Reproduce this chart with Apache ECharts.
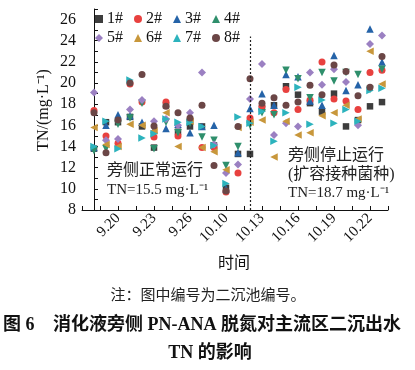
<!DOCTYPE html>
<html>
<head>
<meta charset="utf-8">
<script src="https://cdn.jsdelivr.net/npm/echarts@6/dist/echarts.min.js"></script>
<style>
html,body{margin:0;padding:0;background:#fff;}
#chart{width:415px;height:370px;}
</style>
</head>
<body>
<div id="chart"></div>
<script>
// Sampling dates (category positions along the x axis)
const dates = ['9.18','9.19','9.20','9.21','9.22','9.23','9.24','9.25','9.26','9.27','9.28',
  '10.10','10.11','10.12','10.13','10.14','10.15','10.16','10.17','10.18','10.19','10.20','10.21','10.22','10.23'];
const xTickLabels = ['9.20','9.23','9.26','10.10','10.13','10.16','10.19','10.22'];
const yTickLabels = [8,10,12,14,16,18,20,22,24,26];
const switchDate = '10.12';

// TN values (mg/L) for each secondary clarifier
const s1 = [13.8,16.3,16.3,16.8,15.9,13.9,17.9,15.4,15.9,15.9,14.1,10.1,13.3,13.3,17.6,17.9,19.7,18.9,18.1,17.3,19.0,15.9,16.5,17.8,18.2];
const s2 = [17.4,15.0,14.3,19.9,18.2,14.9,18.2,15.0,16.5,13.9,13.9,9.7,11.5,16.7,17.8,17.2,19.4,17.5,18.4,22.0,18.5,18.3,17.5,21.0,21.2];
const s3 = [13.9,16.0,17.0,16.9,16.3,15.6,15.7,16.1,15.3,15.9,16.0,10.0,13.4,17.6,19.0,17.9,20.8,20.6,18.3,17.9,22.6,19.3,19.85,25.1,22.0];
const s4 = [13.6,13.8,16.1,16.7,18.1,13.8,16.3,15.3,16.2,14.9,14.6,12.2,14.0,16.0,17.2,17.0,21.2,20.4,18.6,21.0,20.2,21.0,20.8,19.4,21.3];
const s5 = [19.1,14.6,14.7,17.5,18.4,16.4,16.6,16.0,17.2,21.0,14.2,11.5,12.3,18.5,21.8,15.1,16.2,15.9,21.0,19.85,21.3,20.1,16.0,23.7,24.5];
const s6 = [15.8,14.2,14.0,16.1,16.0,15.5,17.2,14.0,16.4,13.9,13.5,11.8,15.8,16.3,16.5,13.0,16.4,15.1,15.3,16.9,17.2,17.9,16.6,23.0,19.9];
const s7 = [14.0,16.4,13.8,20.3,14.8,15.2,16.6,16.3,16.3,15.9,14.1,10.5,16.8,16.2,17.3,14.5,17.2,19.6,16.1,18.4,16.2,17.5,16.4,19.3,19.5];
const s8 = [17.2,13.4,16.5,20.0,20.8,15.95,17.8,17.2,16.7,17.9,12.2,9.8,15.9,20.4,18.1,18.6,17.9,18.2,19.8,18.9,21.7,21.1,18.8,19.6,22.5];
const seriesNames = ['1#','2#','3#','4#','5#','6#','7#','8#'];
const seriesValues = [s1,s2,s3,s4,s5,s6,s7,s8];

const colors = ['#3d3d3d','#e8413f','#2563a8','#2f8f6c','#9b80c2','#c8973b','#2cb3bd','#6b4646'];
const symbols = ['rect','circle','triangle','triangle','diamond','triangle','triangle','circle'];
const rotates = [0,0,0,180,0,90,-90,0];
const sizes = [6.5,7,7.5,7.5,8,7.5,7.5,7];

const serif = '"Liberation Serif","Noto Sans CJK SC",serif';
const cjk = '"Liberation Serif","Noto Sans CJK SC",serif';

const series = seriesNames.map((name, k) => {
  const s = {
    name: name,
    type: 'scatter',
    data: seriesValues[k].map((v, i) => [i, v]),
    symbol: symbols[k],
    symbolRotate: rotates[k],
    symbolSize: sizes[k],
    itemStyle: { color: colors[k], opacity: 1 },
    emphasis: { disabled: true },
    z: 3
  };
  if (k === 0) {
    const xi = dates.indexOf(switchDate);
    s.markLine = {
      silent: true,
      symbol: 'none',
      animation: false,
      label: { show: false },
      lineStyle: { type: [2, 2], color: '#222', width: 1.2 },
      data: [[{ coord: [xi, 8] }, { coord: [xi, 24.4] }]]
    };
  }
  return s;
});

const legendBase = {
  orient: 'horizontal',
  itemWidth: 8,
  itemHeight: 8,
  itemGap: 11,
  left: 95,
  selectedMode: false,
  textStyle: { fontFamily: serif, fontSize: 16, color: '#111', padding: [0, 0, 0, -1] },
  padding: 0
};

const chart = echarts.init(document.getElementById('chart'), null, { renderer: 'canvas' });
chart.setOption({
  animation: false,
  backgroundColor: '#fff',
  grid: { left: 82, right: 27, top: 9, bottom: 160, containLabel: false },
  legend: [
    Object.assign({}, legendBase, { top: 11, data: seriesNames.slice(0, 4) }),
    Object.assign({}, legendBase, { top: 30, data: seriesNames.slice(4) })
  ],
  xAxis: {
    type: 'value',
    min: -1,
    max: 24.5,
    interval: 1.5,
    splitLine: { show: false },
    axisLine: { lineStyle: { color: '#111', width: 1 } },
    axisTick: { inside: true, length: 4, lineStyle: { color: '#111' } },
    axisLabel: {
      rotate: 45,
      margin: 6,
      fontFamily: serif,
      fontSize: 15,
      color: '#111',
      showMinLabel: true,
      showMaxLabel: true,
      formatter: function (v) {
        const i = Math.round(v);
        if (Math.abs(v - i) > 1e-6) return '';
        const d = dates[i];
        return xTickLabels.indexOf(d) >= 0 ? d : '';
      }
    }
  },
  yAxis: {
    type: 'value',
    min: 8,
    max: 27,
    interval: 1,
    splitLine: { show: false },
    axisLine: { show: true, lineStyle: { color: '#111', width: 1 } },
    axisTick: { inside: true, length: 4, lineStyle: { color: '#111' } },
    axisLabel: {
      margin: 6,
      fontFamily: serif,
      fontSize: 16,
      color: '#111',
      formatter: function (v) { return yTickLabels.indexOf(v) >= 0 ? String(v) : ''; }
    }
  },
  graphic: [
    { type: 'text', x: 44, y: 110, rotation: Math.PI / 2,
      style: { text: 'TN/(mg·L⁻¹)', font: '16px ' + serif, fill: '#111', align: 'center', verticalAlign: 'middle' } },
    { type: 'text', x: 107, y: 171,
      style: { text: '旁侧正常运行', font: '16px ' + cjk, fill: '#222', align: 'left', verticalAlign: 'middle' } },
    { type: 'text', x: 107, y: 190,
      style: { text: 'TN=15.5 mg·L⁻¹', font: '15px ' + serif, fill: '#222', align: 'left', verticalAlign: 'middle' } },
    { type: 'text', x: 288, y: 156,
      style: { text: '旁侧停止运行', font: '16px ' + cjk, fill: '#222', align: 'left', verticalAlign: 'middle' } },
    { type: 'text', x: 288, y: 175,
      style: { text: '(扩容接种菌种)', font: '16px ' + cjk, fill: '#222', align: 'left', verticalAlign: 'middle' } },
    { type: 'text', x: 288, y: 193,
      style: { text: 'TN=18.7 mg·L⁻¹', font: '15px ' + serif, fill: '#222', align: 'left', verticalAlign: 'middle' } },
    { type: 'text', x: 234, y: 264,
      style: { text: '时间', font: '16px ' + cjk, fill: '#111', align: 'center', verticalAlign: 'middle' } },
    { type: 'text', x: 208, y: 296,
      style: { text: '注：图中编号为二沉池编号。', font: '15px ' + cjk, fill: '#222', align: 'center', verticalAlign: 'middle' } },
    { type: 'text', x: 3, y: 325,
      style: { text: '图 6', font: 'bold 18px ' + cjk, fill: '#111', align: 'left', verticalAlign: 'middle' } },
    { type: 'text', x: 53, y: 325,
      style: { text: '消化液旁侧 PN-ANA 脱氮对主流区二沉出水', font: 'bold 18px ' + cjk, fill: '#111', align: 'left', verticalAlign: 'middle' } },
    { type: 'text', x: 210, y: 353,
      style: { text: 'TN 的影响', font: 'bold 18px ' + cjk, fill: '#111', align: 'center', verticalAlign: 'middle' } }
  ],
  series: series
});
</script>
</body>
</html>
